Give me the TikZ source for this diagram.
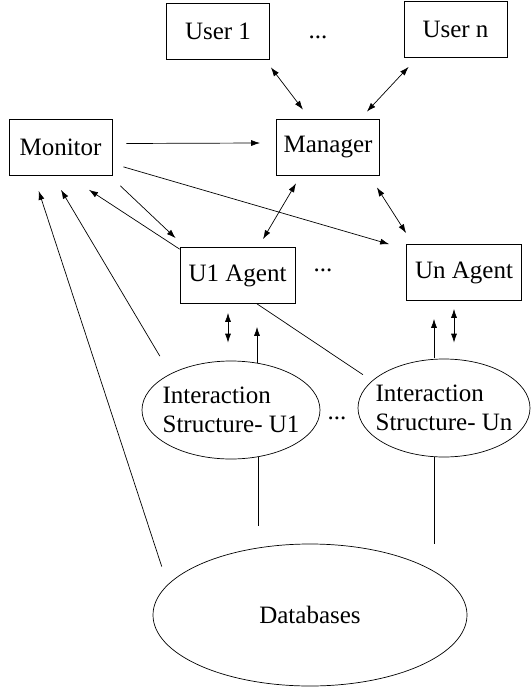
\documentclass[tikz,border=0pt]{standalone}
\usepackage{fontspec}
\setmainfont{Liberation Serif}
\usetikzlibrary{shapes.geometric,arrows.meta}

\tikzset{
  every node/.style={font=\fontsize{25}{29}\selectfont},
  box/.style={draw, rectangle, inner sep=0pt, minimum width=#1, minimum height=56pt},
  box/.default=103pt,
  struttura/.style={draw, ellipse, inner sep=0pt, minimum width=#1, minimum height=98pt},
  freccia/.style={-{Latex[length=9pt,width=6pt]}},
  doppia/.style={{Latex[length=9pt,width=6pt]}-{Latex[length=9pt,width=6pt]}},
}

\begin{document}
\begin{tikzpicture}[x=1pt,y=-1pt,line width=0.7pt]
  \useasboundingbox (0,0) rectangle (531,687);

  % Utenti e manager
  \node[box] (user1) at (218,31) {User 1};
  \node[box] (usern) at (455.5,29.5) {User n};
  \node (dots1) at (318,37) {...};
  \node[box] (monitor) at (60.5,147.5) {Monitor};
  \node[box] (manager) at (328,147) {Manager};

  % Agenti
  \node[box=115pt] (u1agent) at (237.5,275.5) {U1 Agent};
  \node[box=115pt] (unagent) at (464,272.5) {Un Agent};
  \node (dots2) at (323,270) {...};

  % Strutture di interazione e database
  \node[struttura=178pt, label={[align=left]center:Interaction\\Structure- U1}] (is1) at (231,410) {};
  \node[struttura=172pt, label={[align=left]center:Interaction\\Structure- Un}] (isn) at (444,408) {};
  \node (dots3) at (337,418) {...};
  \node[draw, ellipse, inner sep=0pt, minimum width=314pt, minimum height=142pt] (db) at (310,615) {Databases};

  % Collegamenti in alto
  \draw[doppia] ([shift={(1,8)}]user1.south east) -- ([shift={(-25,-9)}]manager.north);
  \draw[doppia] ([shift={(5,9)}]usern.south west) -- ([shift={(-13,-7)}]manager.north east);
  \draw[freccia] ([shift={(14,-4)}]monitor.east) -- ([shift={(-16,-4)}]manager.west);
  \draw[freccia] ([shift={(11,-9)}]monitor.south east) -- ([shift={(-17,0)}]unagent.north west);
  \draw[doppia] ([shift={(-32,8)}]manager.south) -- ([shift={(25.5,-8)}]u1agent.north);
  \draw[doppia] ([shift={(-3,12)}]manager.south east) -- ([shift={(0,-11)}]unagent.north west);

  % Verso il monitor
  \draw[freccia] ([shift={(8,10)}]monitor.south east) -- ([shift={(-4,-9)}]u1agent.north west);
  \draw[freccia] ([shift={(0,2)}]u1agent.north west) -- ([shift={(28.5,14)}]monitor.south);
  \draw[freccia] ([shift={(-8,-19)}]is1.north west) -- ([shift={(0.5,14)}]monitor.south);
  \draw[freccia] ([shift={(-37,2)}]db.north west) -- ([shift={(30,15)}]monitor.south west);

  % Agenti e strutture
  \draw ([shift={(19.5,0)}]u1agent.south) -- ([shift={(-20,1.6)}]isn.north west);
  \draw[doppia] ([shift={(-9.5,9)}]u1agent.south) -- ([shift={(-3,-18)}]is1.north);
  \draw[freccia] ([shift={(26,2)}]is1.north) -- ([shift={(19.5,23)}]u1agent.south);
  \draw[freccia] ([shift={(-10,-1)}]isn.north) -- ([shift={(-30,18)}]unagent.south);
  \draw[doppia] ([shift={(-10,8)}]unagent.south) -- ([shift={(10,-16)}]isn.north);

  % Verso i database
  \draw ([shift={(27,-2)}]is1.south) -- ([shift={(-52,-18)}]db.north);
  \draw ([shift={(-10,0)}]isn.south) -- ([shift={(124,0)}]db.north);
\end{tikzpicture}
\end{document}
